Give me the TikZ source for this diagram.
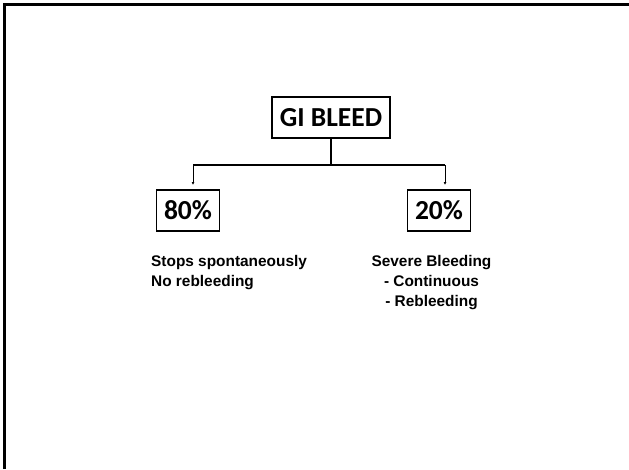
\documentclass[tikz,border=0pt]{standalone}
\usepackage{fontspec}
\usetikzlibrary{arrows.meta}
\setmainfont{Liberation Sans}
\newfontfamily\boxfont{Carlito}
\begin{document}
\begin{tikzpicture}[>={Latex[length=3pt,width=3pt]},x=1pt,y=-1pt,
    pctbox/.style={draw,line width=1.6pt,inner sep=0pt,minimum height=41pt,font=\boxfont\bfseries\fontsize{27.5}{30}\selectfont},
    note/.style={font=\bfseries\fontsize{15.4}{20}\selectfont,inner sep=0pt}]
	\useasboundingbox (0,0) rectangle (629,469);
	\draw[line width=3pt] (4.5,469) -- (4.5,4) -- (629,4);
	\node[pctbox,minimum width=118pt] (bleed) at (331,117.5) {GI BLEED};
	\node[pctbox,minimum width=63pt] (p80) at (188,210.5) {80\%};\node[pctbox,minimum width=63pt] (p20) at (439,210.5) {20\%};
	\coordinate (split) at (331,165);\coordinate (l80) at (193,165);\coordinate (l20) at (445,165);
	\draw[line width=1.6pt] (bleed.south) -- (split);\draw[line width=1.6pt] (l80) -- (l20);
	\draw[->,line width=1pt] (l80) -- (193,185);\draw[->,line width=1pt] (l20) -- (445,185);
	\node[note,align=left,anchor=north west] (stops) at (151,255) {Stops spontaneously\\No rebleeding};
	\node[note,align=center,anchor=north] (severe) at (431.5,255) {Severe Bleeding\\- Continuous\\- Rebleeding};
\end{tikzpicture}
\end{document}
